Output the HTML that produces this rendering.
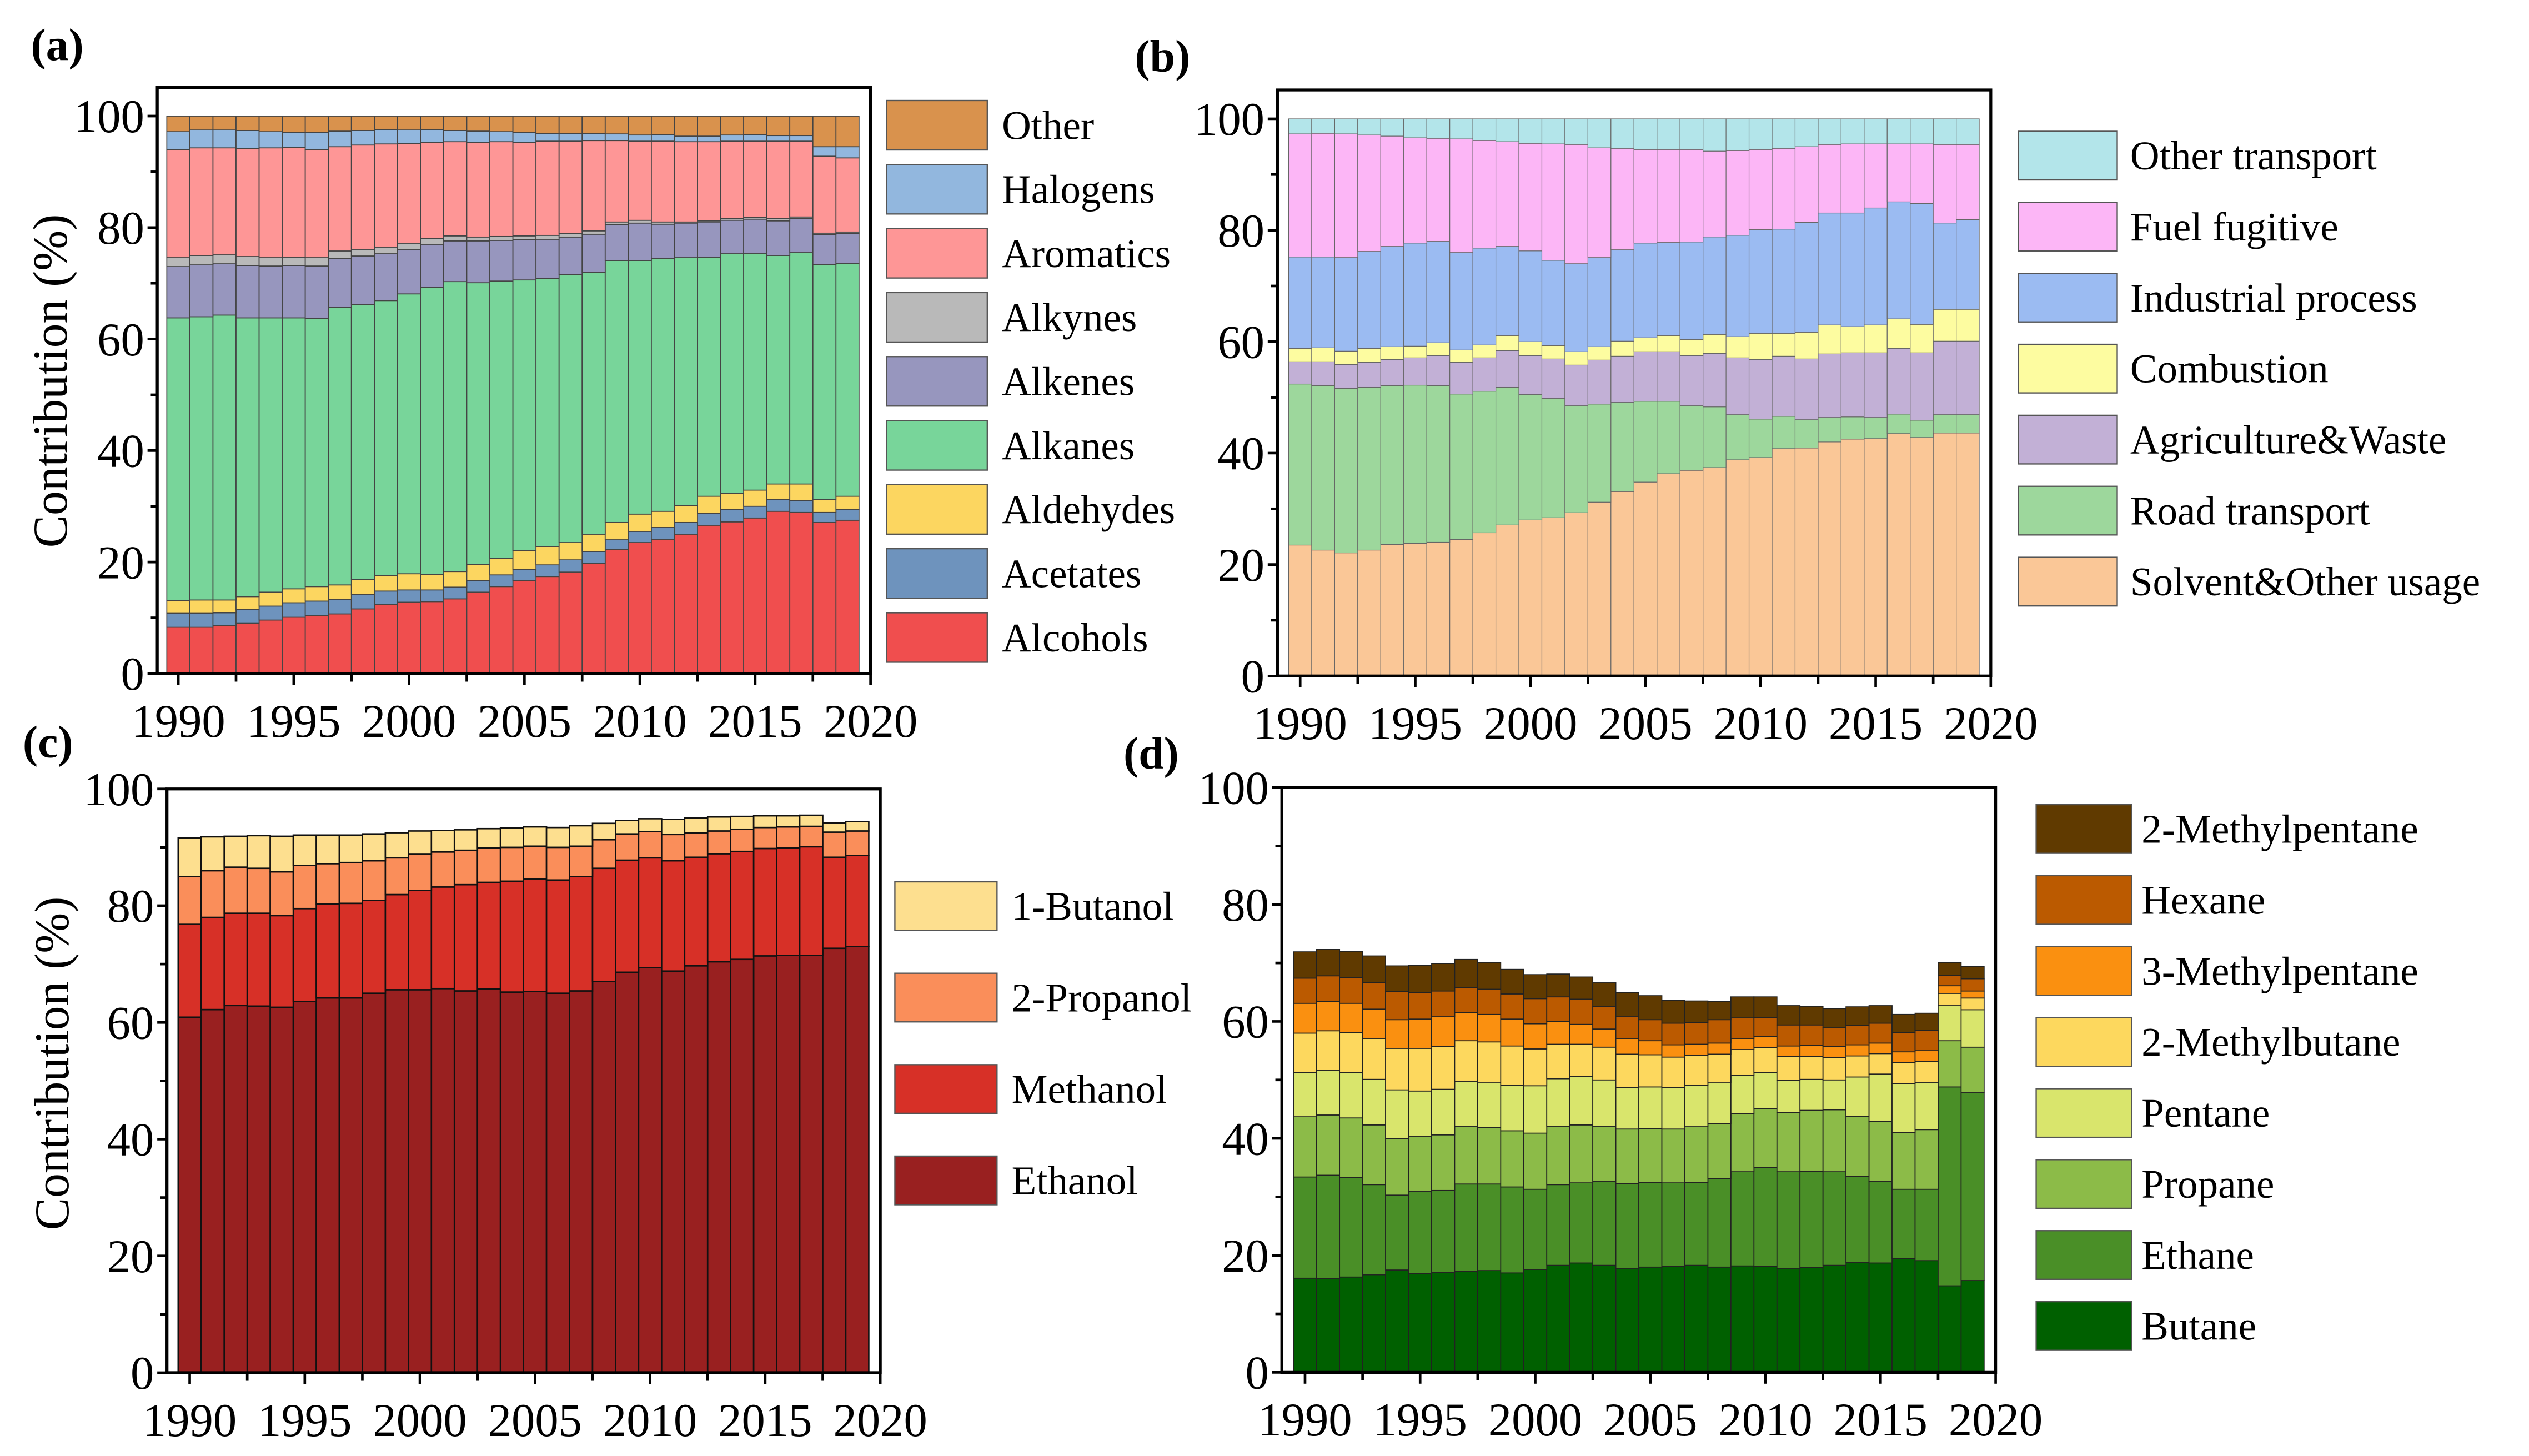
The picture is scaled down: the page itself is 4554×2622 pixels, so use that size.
<!DOCTYPE html>
<html><head><meta charset="utf-8"><style>
html,body{margin:0;padding:0;background:#fff;}
svg{display:block;font-family:"Liberation Serif",serif;}
</style></head>
<body>
<svg id="fig" xmlns="http://www.w3.org/2000/svg" width="4554" height="2622" viewBox="0 0 1560 898.2" preserveAspectRatio="none">
<rect x="0" y="0" width="1560" height="898.2" fill="#fff"/>
</svg>
<script>
const years = [1990,1991,1992,1993,1994,1995,1996,1997,1998,1999,2000,2001,2002,2003,2004,2005,2006,2007,2008,2009,2010,2011,2012,2013,2014,2015,2016,2017,2018,2019];
const xTickLabels = ["1990","1995","2000","2005","2010","2015","2020"];
const yTickLabels = ["0","20","40","60","80","100"];

// Panel (a) series (bottom to top)
const aAlcohols = [8.3,8.3,8.6,9.0,9.6,10.1,10.4,10.7,11.6,12.4,12.8,12.9,13.4,14.6,15.6,16.7,17.4,18.2,19.8,22.3,23.5,24.1,25.0,26.6,27.2,27.9,29.1,28.9,27.1,27.5];
const aAcetates = [2.5,2.5,2.3,2.5,2.5,2.6,2.6,2.6,2.6,2.4,2.2,2.1,2.1,2.1,2.1,2.0,2.1,2.2,2.1,1.7,2.0,2.1,2.1,2.1,2.2,2.1,2.1,2.1,1.8,1.9];
const aAldehydes = [2.3,2.4,2.3,2.3,2.5,2.5,2.6,2.6,2.7,2.8,2.9,2.8,2.8,2.9,3.0,3.4,3.3,3.1,3.1,3.1,3.1,2.9,3.0,3.1,2.9,2.9,2.8,3.0,2.3,2.4];
const aAlkanes = [50.7,50.8,51.1,50.0,49.2,48.6,48.1,49.8,49.3,49.3,50.2,51.5,52.0,50.5,49.7,48.5,48.1,48.1,47.0,47.0,45.5,45.4,44.5,42.9,43.0,42.5,41.0,41.5,42.2,41.8];
const aAlkenes = [9.2,9.3,9.2,9.4,9.3,9.4,9.4,8.8,8.7,8.4,8.0,7.7,7.3,7.5,7.3,7.2,7.0,6.7,6.8,6.4,6.7,6.1,6.2,6.3,6.0,6.1,6.2,6.1,5.3,5.3];
const aAlkynes = [1.6,1.7,1.6,1.6,1.5,1.5,1.5,1.3,1.2,1.2,1.1,1.0,0.9,0.7,0.7,0.7,0.7,0.6,0.6,0.5,0.5,0.4,0.2,0.2,0.3,0.3,0.4,0.3,0.3,0.3];
const aAromatics = [19.4,19.3,19.2,19.4,19.7,19.7,19.4,18.7,18.7,18.5,17.9,17.3,16.9,17.0,17.0,16.8,16.9,16.6,16.2,14.6,14.2,14.5,14.4,14.2,13.9,13.7,13.9,13.6,13.8,13.3];
const aHalogens = [3.2,3.2,3.2,3.2,2.9,2.7,3.1,2.8,2.6,2.6,2.4,2.3,2.0,2.0,1.8,1.8,1.4,1.4,1.3,1.2,1.1,1.2,1.0,1.0,1.1,1.2,1.0,1.0,1.7,2.0];
const aOther = [2.8,2.5,2.5,2.6,2.8,2.9,2.9,2.7,2.6,2.4,2.5,2.4,2.6,2.7,2.8,2.9,3.1,3.1,3.1,3.2,3.4,3.3,3.6,3.6,3.4,3.3,3.5,3.5,5.5,5.5];

// Panel (b)
const bSolvent = [23.5,22.6,22.1,22.6,23.6,23.8,24.0,24.5,25.7,27.1,28.0,28.4,29.3,31.2,33.1,34.8,36.3,36.9,37.4,38.8,39.2,40.8,40.9,42.0,42.5,42.6,43.5,42.8,43.6,43.6];
const bRoad = [28.9,29.5,29.5,29.2,28.5,28.4,28.1,26.1,25.4,24.7,22.5,21.4,19.2,17.6,16.0,14.5,13.0,11.6,10.9,8.1,6.9,5.8,5.1,4.4,4.0,3.8,3.5,3.1,3.3,3.3];
const bAgri = [4.0,4.3,4.3,4.5,4.7,4.9,5.4,5.7,6.0,6.6,7.0,7.1,7.3,7.9,8.3,8.9,8.9,9.0,9.6,10.2,10.7,10.8,10.9,11.4,11.5,11.6,11.8,12.1,13.2,13.2];
const bCombustion = [2.4,2.5,2.4,2.5,2.3,2.1,2.3,2.2,2.3,2.7,2.5,2.4,2.4,2.4,2.7,2.5,2.9,2.9,3.4,3.8,4.7,4.1,4.8,5.2,4.7,5.0,5.3,5.1,5.7,5.7];
const bIndustrial = [16.4,16.3,16.8,17.4,18.0,18.5,18.2,17.5,17.4,16.0,16.3,15.3,15.8,16.0,16.4,17.0,16.7,17.5,17.5,18.2,18.6,18.7,19.7,20.1,20.4,21.0,21.0,21.7,15.5,16.1];
const bFuel = [22.1,22.2,22.2,20.9,19.8,18.9,18.5,20.4,19.3,18.8,19.3,20.9,21.4,19.7,18.2,16.8,16.7,16.6,15.4,15.2,14.4,14.5,13.6,12.3,12.4,11.5,10.4,10.7,14.1,13.5];
const bOtherTransport = [2.7,2.6,2.7,2.9,3.1,3.4,3.5,3.6,3.9,4.1,4.4,4.5,4.6,5.2,5.3,5.5,5.5,5.5,5.8,5.7,5.5,5.3,5.0,4.6,4.5,4.5,4.5,4.5,4.6,4.6];

// Panel (c)
const cEthanol = [60.9,62.2,62.9,62.8,62.6,63.6,64.2,64.2,65.0,65.6,65.6,65.8,65.4,65.7,65.2,65.3,65.0,65.4,67.0,68.6,69.4,68.8,69.7,70.4,70.8,71.4,71.5,71.5,72.7,73.0];
const cMethanol = [15.9,15.8,15.8,15.9,15.7,15.9,16.1,16.2,15.9,16.3,17.0,17.4,18.2,18.3,19.0,19.3,19.4,19.6,19.4,19.2,18.8,18.9,18.6,18.5,18.5,18.4,18.4,18.6,15.6,15.6];
const cPropanol = [8.2,8.0,7.9,7.7,7.5,7.4,6.9,7.0,6.8,6.3,6.2,6.0,5.9,5.9,5.8,5.6,5.6,5.2,4.9,4.5,4.5,4.5,4.2,3.9,3.8,3.6,3.6,3.5,4.3,4.2];
const cButanol = [6.6,5.8,5.3,5.6,6.1,5.2,4.9,4.7,4.6,4.3,4.0,3.7,3.5,3.3,3.3,3.3,3.4,3.5,2.8,2.3,2.2,2.6,2.5,2.4,2.2,2.0,1.9,1.9,1.6,1.6];

// Panel (d)
const dButane = [16.1,16.0,16.3,16.7,17.5,16.9,17.1,17.3,17.4,17.0,17.6,18.3,18.7,18.3,17.8,18.0,18.1,18.3,18.0,18.2,18.1,17.8,17.9,18.3,18.8,18.7,19.5,19.1,14.8,15.7];
const dEthane = [17.3,17.7,17.0,15.4,12.8,14.0,14.0,14.9,14.8,14.7,13.7,13.8,13.7,14.4,14.5,14.5,14.3,14.2,15.1,16.1,16.9,16.5,16.5,16.0,14.7,14.0,11.8,12.2,34.0,32.1];
const dPropane = [10.3,10.3,10.2,10.2,9.7,9.4,9.5,9.9,9.7,9.6,9.6,10.0,9.9,9.4,9.3,9.2,9.2,9.5,9.4,9.9,10.1,10.1,10.4,10.6,10.3,10.2,9.7,10.2,7.9,7.8];
const dPentane = [7.6,7.6,7.8,7.8,8.3,7.8,7.8,7.6,7.6,7.8,8.1,8.1,8.3,7.9,7.1,7.1,7.1,7.1,7.0,6.6,6.2,5.5,5.3,5.1,6.7,8.1,8.4,8.1,6.0,6.4];
const dMethylbutane = [6.7,6.8,6.8,7.0,7.1,7.3,7.3,7.0,7.0,6.7,6.3,5.9,5.5,5.6,5.7,5.5,5.2,5.1,4.9,4.4,4.2,4.1,3.9,3.8,3.6,3.5,3.6,3.6,2.1,2.0];
const d3Methylpentane = [5.1,5.0,5.0,5.0,4.9,5.0,5.1,4.8,4.7,4.6,4.3,3.9,3.4,3.1,2.7,2.4,2.1,1.9,1.9,1.9,1.9,1.8,1.9,1.9,1.9,1.8,1.8,1.8,1.3,1.2];
const dHexane = [4.3,4.4,4.4,4.5,4.8,4.5,4.4,4.3,4.3,4.3,4.3,4.2,4.3,3.9,3.8,3.6,3.7,3.7,4.0,3.5,3.3,3.6,3.5,3.2,3.3,3.4,3.3,3.5,1.8,2.1];
const d2Methylpentane = [4.5,4.5,4.5,4.6,4.4,4.7,4.7,4.8,4.6,4.2,4.1,3.9,3.8,4.0,4.0,4.1,3.9,3.7,3.1,3.6,3.5,3.3,3.2,3.3,3.2,3.0,3.1,2.9,2.2,2.1];

const NS = "http://www.w3.org/2000/svg";
const svg = document.getElementById('fig');
function mk(tag, attrs, parent){
  const e = document.createElementNS(NS, tag);
  for (const k in attrs) e.setAttribute(k, attrs[k]);
  (parent||svg).appendChild(e);
  return e;
}

const panels = [
  {id:'a', label:'(a)', lx:19, ly:37, fl:97, fr:537, ft:54, x1990:110, y0:415.5, y100:71.6, stroke:'#444', sw:0.6, ytitle:{x:31,y:235},
   series:[['Alcohols',aAlcohols,'#F04E4E'],['Acetates',aAcetates,'#6E93BD'],['Aldehydes',aAldehydes,'#FCD660'],['Alkanes',aAlkanes,'#78D59A'],['Alkenes',aAlkenes,'#9796BE'],['Alkynes',aAlkynes,'#B9B9B9'],['Aromatics',aAromatics,'#FE9696'],['Halogens',aHalogens,'#92B7DE'],['Other',aOther,'#D9924D']],
   leg:{x:547, w:62, h:30.5, top:62, step:39.5, tx:618, fs:25}},
  {id:'b', label:'(b)', lx:700, ly:44, fl:788, fr:1228, ft:55.5, x1990:802, y0:417, y100:73.3, stroke:'#666', sw:0.4, ytitle:null,
   series:[['Solvent&Other usage',bSolvent,'#FAC797'],['Road transport',bRoad,'#9DD79C'],['Agriculture&Waste',bAgri,'#C2B0D6'],['Combustion',bCombustion,'#FDFCA0'],['Industrial process',bIndustrial,'#9BBBF2'],['Fuel fugitive',bFuel,'#FCB6F6'],['Other transport',bOtherTransport,'#B3E5EA']],
   leg:{x:1245, w:61, h:30, top:81, step:43.8, tx:1314, fs:25}},
  {id:'c', label:'(c)', lx:14, ly:467, fl:103, fr:543, ft:486.7, x1990:117, y0:846.8, y100:486.7, stroke:'#111', sw:0.9, ytitle:{x:32,y:656},
   series:[['Ethanol',cEthanol,'#992020'],['Methanol',cMethanol,'#D73027'],['2-Propanol',cPropanol,'#FA8E5A'],['1-Butanol',cButanol,'#FDDF8F']],
   leg:{x:552, w:63, h:30, top:544, step:56.4, tx:624, fs:25}},
  {id:'d', label:'(d)', lx:693, ly:474, fl:790.7, fr:1231, ft:485.8, x1990:805, y0:846.6, y100:485.8, stroke:'#222', sw:0.6, ytitle:null,
   series:[['Butane',dButane,'#006000'],['Ethane',dEthane,'#4A8F27'],['Propane',dPropane,'#8CBB48'],['Pentane',dPentane,'#D9E56C'],['2-Methylbutane',dMethylbutane,'#FDD85E'],['3-Methylpentane',d3Methylpentane,'#FA9010'],['Hexane',dHexane,'#BB5A00'],['2-Methylpentane',d2Methylpentane,'#603A00']],
   leg:{x:1256, w:59, h:30, top:496.4, step:43.8, tx:1321, fs:25}}
];

panels.forEach(p => {
  const g = mk('g', {});
  
  
  const unit = (p.fr - p.x1990) / 30;
  const X = yr => p.x1990 + (yr - 1990) * unit;
  const Y = v => p.y0 - v * (p.y0 - p.y100) / 100;

  // bars
  const cum = years.map(() => 0);
  p.series.forEach(s => {
    const sg = mk('g', {}, g);
    
    
    years.forEach((yr, i) => {
      const b = cum[i], t = b + s[1][i];
      const r = mk('rect', {x: X(yr - 0.5), y: Y(t), width: unit, height: Math.max(0, Y(b) - Y(t)), fill: s[2], stroke: p.stroke, 'stroke-width': p.sw}, sg);
      
      
      cum[i] = t;
    });
  });

  // frame
  const fr = mk('rect', {x: p.fl, y: p.ft, width: p.fr - p.fl, height: p.y0 - p.ft, fill: 'none', stroke: '#000', 'stroke-width': 1.8}, g);
  
  

  // y ticks
  const ya = mk('g', {}, g);
  
  
  for (let v = 0; v <= 100; v += 10) {
    const major = v % 20 === 0;
    mk('line', {x1: p.fl - (major ? 6 : 4), x2: p.fl, y1: Y(v), y2: Y(v), stroke: '#000', 'stroke-width': 1.6}, ya);
  }
  yTickLabels.forEach(lbl => {
    const t = mk('text', {x: p.fl - 8, y: Y(+lbl) + 10, 'text-anchor': 'end', 'font-size': 29, fill: '#000'}, ya);
    t.textContent = lbl;
    
    
  });

  // x ticks
  const xa = mk('g', {}, g);
  
  
  for (let yr = 1990; yr <= 2020; yr += 2.5) {
    const major = (yr % 5) === 0;
    mk('line', {x1: X(yr), x2: X(yr), y1: p.y0, y2: p.y0 + (major ? 7 : 5), stroke: '#000', 'stroke-width': 1.6}, xa);
  }
  xTickLabels.forEach(lbl => {
    const t = mk('text', {x: X(+lbl), y: p.y0 + 39, 'text-anchor': 'middle', 'font-size': 29, fill: '#000'}, xa);
    t.textContent = lbl;
    
    
  });

  if (p.ytitle) {
    const t = mk('text', {x: p.ytitle.x, y: p.ytitle.y, 'text-anchor': 'middle', 'font-size': 30, transform: 'rotate(-90 ' + p.ytitle.x + ' ' + p.ytitle.y + ')', 'dominant-baseline': 'central', fill: '#000'}, g);
    t.textContent = 'Contribution (%)';
    
    
  }

  const pl = mk('text', {x: p.lx, y: p.ly, 'font-size': 28, 'font-weight': 'bold', fill: '#000'}, g);
  pl.textContent = p.label;
  
  

  // legend (top to bottom = reverse stack order)
  const lg = mk('g', {}, g);
  
  
  p.series.slice().reverse().forEach((s, k) => {
    const ey = p.leg.top + k * p.leg.step;
    const eg = mk('g', {}, lg);
    
    
    mk('rect', {x: p.leg.x, y: ey, width: p.leg.w, height: p.leg.h, fill: s[2], stroke: '#555', 'stroke-width': 0.8}, eg);
    const t = mk('text', {x: p.leg.tx, y: ey + p.leg.h / 2 + 8.5, 'font-size': p.leg.fs, fill: '#000'}, eg);
    t.textContent = s[0];
  });
});
</script>
</body></html>
